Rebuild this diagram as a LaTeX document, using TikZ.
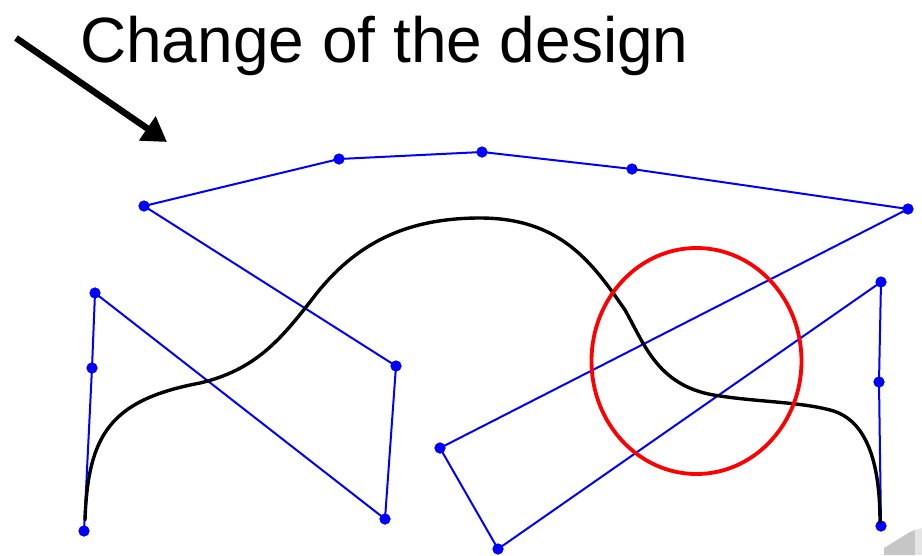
\documentclass[tikz,border=0pt]{standalone}
\usepackage{fontspec}
\setmainfont{Liberation Sans}
\usetikzlibrary{arrows.meta}
\begin{document}
\begin{tikzpicture}[x=1pt,y=-1pt,
  ctrl/.style={circle,fill=blue,inner sep=0pt,minimum size=11pt},
  poly/.style={blue,line width=2pt},
  curveline/.style={black,line width=3.4pt},
  bigarrow/.style={black,line width=6.5pt,-{Triangle[length=24pt,width=28pt]}}]
\useasboundingbox (0,0) rectangle (922,555);
\fill[white] (0,0) rectangle (922,555);
% title
\node[anchor=base west,inner sep=0pt,font=\fontsize{64}{70}\selectfont] (title) at (80,62) {Change of the design};
\coordinate (as) at (16,38);
\coordinate (ae) at (167,142);
\draw[bigarrow] (as) -- (ae);
% control points
\node[ctrl] (p0) at (84,531) {};
\node[ctrl] (p1) at (92,368) {};
\node[ctrl] (p2) at (95,293) {};
\node[ctrl] (p3) at (385,519) {};
\node[ctrl] (p4) at (396,366) {};
\node[ctrl] (p5) at (144,206) {};
\node[ctrl] (p6) at (339,159) {};
\node[ctrl] (p7) at (482,152) {};
\node[ctrl] (p8) at (632,169) {};
\node[ctrl] (p9) at (908,209) {};
\node[ctrl] (p10) at (440,448) {};
\node[ctrl] (p11) at (498,549) {};
\node[ctrl] (p12) at (881,282) {};
\node[ctrl] (p13) at (879,382) {};
\node[ctrl] (p14) at (881,526) {};
\draw[poly] (p0.center) -- (p1.center) -- (p2.center) -- (p3.center) -- (p4.center) -- (p5.center) -- (p6.center) -- (p7.center) -- (p8.center) -- (p9.center) -- (p10.center) -- (p11.center) -- (p12.center) -- (p13.center) -- (p14.center);
\foreach \n in {p0,p1,p2,p3,p4,p5,p6,p7,p8,p9,p10,p11,p12,p13,p14}
  \fill[blue] (\n) circle (5.5pt);
% curve
\draw[curveline,line cap=round,line join=round] (85,520)
  .. controls (88,435) and (110,400) .. (200,383)
  .. controls (255,370) and (280,340) .. (310,302)
  .. controls (350,248) and (400,218) .. (480,218)
  .. controls (560,218) and (592,262) .. (625,310)
  .. controls (645,345) and (658,388) .. (720,396)
  .. controls (760,402) and (800,402) .. (830,410)
  .. controls (870,420) and (880,470) .. (880,522);
% red ellipse
\draw[red,line width=3.8pt] (696.5,361) ellipse [x radius=105,y radius=113];
% page curl artifact
\fill[gray!45] (884,548) -- (910,532) -- (915,530) -- (915,555) -- (884,555) -- cycle;
\fill[gray!20] (915,530) -- (922,528) -- (922,555) -- (915,555) -- cycle;
\end{tikzpicture}
\end{document}
